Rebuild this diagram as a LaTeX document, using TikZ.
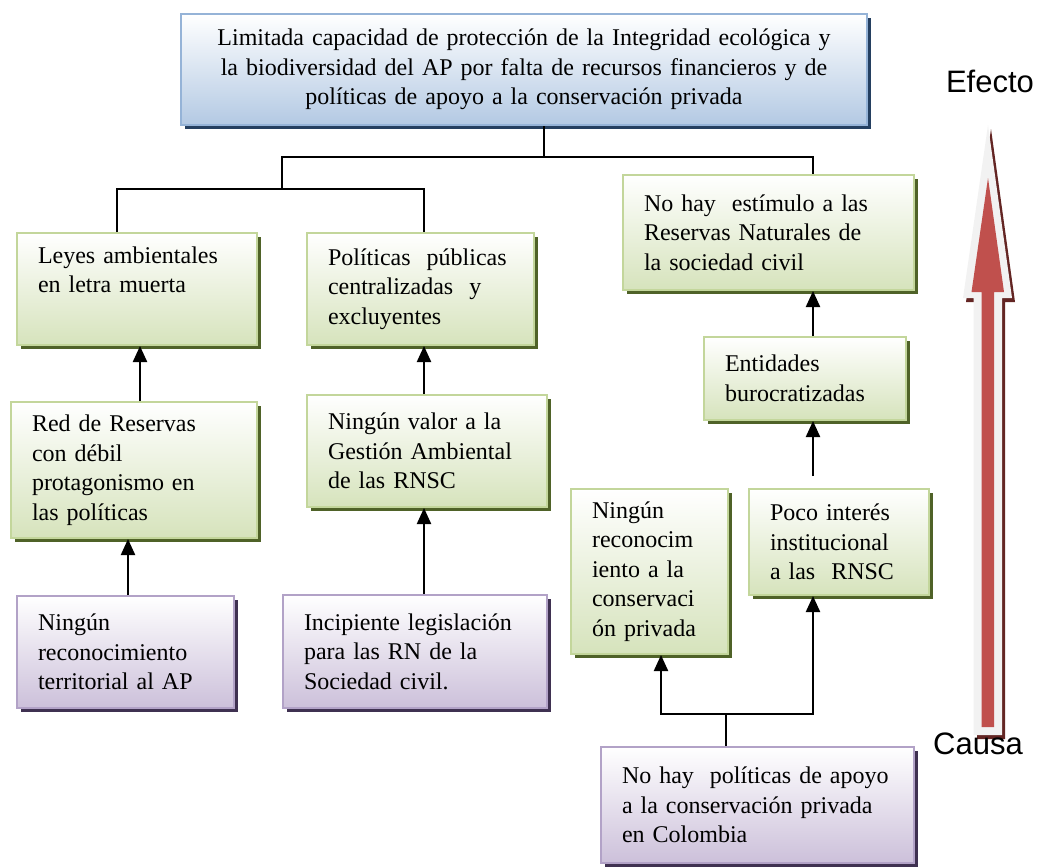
\documentclass[tikz,border=0pt]{standalone}
\usepackage{fontspec}
\setmainfont{Liberation Serif}
\newfontfamily\arialfont{Liberation Sans}
\usetikzlibrary{shadows,arrows.meta}

\definecolor{azulborde}{HTML}{95B3D7}
\definecolor{azulfondo}{HTML}{B3C9E3}
\definecolor{azulsombra}{HTML}{243F60}
\definecolor{verdeborde}{HTML}{C3D69B}
\definecolor{verdefondo}{HTML}{D6E3BC}
\definecolor{verdesombra}{HTML}{4F6228}
\definecolor{lilaborde}{HTML}{B2A2C7}
\definecolor{lilafondo}{HTML}{CCC0DA}
\definecolor{lilasombra}{HTML}{3F3151}
\definecolor{rojoflecha}{HTML}{C0504D}
\definecolor{rojosombra}{HTML}{632523}
\definecolor{grisclaro}{HTML}{F2F2F2}

\begin{document}
\begin{tikzpicture}[x=1pt,y=-1pt,
   caja/.style={draw,line width=2pt,anchor=north west,align=left,
      inner xsep=21pt,inner ysep=0pt,font=\fontsize{24}{29.5}\selectfont},
   azul/.style={caja,draw=azulborde,top color=white,bottom color=azulfondo,
      drop shadow={shadow xshift=4pt,shadow yshift=-4pt,fill=azulsombra,opacity=1}},
   verde/.style={caja,draw=verdeborde,top color=white,bottom color=verdefondo,
      drop shadow={shadow xshift=4pt,shadow yshift=-4pt,fill=verdesombra,opacity=1}},
   lila/.style={caja,draw=lilaborde,top color=white,bottom color=lilafondo,
      drop shadow={shadow xshift=4pt,shadow yshift=-4pt,fill=lilasombra,opacity=1}},
   linea/.style={line width=2.2pt},
   flecha/.style={line width=2.2pt,-{Triangle[length=16pt,width=14pt]}},
   rotulo/.style={font=\arialfont\fontsize{31}{31}\selectfont,inner sep=0pt}]
   \useasboundingbox (0,0) rectangle (1041,867);

   % efecto principal
   \node[azul,align=center,inner xsep=10pt,text width=666pt,minimum height=111pt] (problema) at (180,13)
      {Limitada capacidad de protección de la Integridad ecológica y\\
       la biodiversidad del AP por falta de recursos financieros y de\\
       políticas de apoyo a la conservación privada};

   % efectos
   \node[verde,text width=198pt,minimum height=112pt] (leyes) at (16,232)
      {Leyes ambientales\\ en letra muerta\\ \strut};
   \node[verde,text width=185pt,minimum height=112pt] (politicas) at (306,232)
      {Políticas~~públicas\\ centralizadas~~y\\ excluyentes};
   \node[verde,text width=249pt,minimum height=115pt] (estimulo) at (622,174)
      {No hay~ estímulo a las\\ Reservas Naturales de\\ la sociedad civil};
   \node[verde,text width=204pt,minimum height=136pt] (red) at (10,401)
      {Red de Reservas\\ con débil\\ protagonismo en\\ las políticas};
   \node[verde,text width=198pt,minimum height=112pt] (valor) at (306,394)
      {Ningún valor a la\\ Gestión Ambiental\\ de las RNSC};
   \node[verde,text width=160pt,minimum height=83pt] (entidades) at (703,336)
      {Entidades\\ burocratizadas};
   \node[verde,text width=115pt,minimum height=165pt] (reconocim) at (570,488)
      {Ningún\\ reconocim\\ iento a la\\ conservaci\\ ón privada};
   \node[verde,text width=138pt,minimum height=106pt] (interes) at (748,488)
      {Poco interés\\ institucional\\ a las~ RNSC};

   % causas
   \node[lila,text width=175pt,minimum height=112pt] (territorial) at (16,595)
      {Ningún\\ reconocimiento\\ territorial al AP};
   \node[lila,text width=222pt,minimum height=113pt] (incipiente) at (282,594)
      {Incipiente legislación\\ para las RN de la\\ Sociedad civil.};
   \node[lila,text width=271pt,minimum height=116pt] (apoyo) at (600,746)
      {No hay~ políticas de apoyo\\ a la conservación privada\\ en Colombia};

   % arbol superior
   \coordinate (cruce) at (544,157);
   \coordinate (nudo) at (282,189);
   \draw[linea] (problema.south -| cruce) -- (cruce);
   \draw[linea] (nudo) |- (cruce) -| (estimulo.north -| 813,0);
   \draw[linea] (leyes.north -| 117,0) |- (nudo) -| (politicas.north -| 424,0);

   % flechas causa -> efecto
   \draw[flecha] (red.north -| 140,0) -- (leyes.south -| 140,0);
   \draw[flecha] (territorial.north -| 128,0) -- (red.south -| 128,0);
   \draw[flecha] (valor.north -| 424,0) -- (politicas.south -| 424,0);
   \draw[flecha] (incipiente.north -| 424,0) -- (valor.south -| 424,0);
   \draw[flecha] (entidades.north -| 813,0) -- (estimulo.south -| 813,0);
   \draw[flecha,shorten <=12pt] (interes.north -| 813,0) -- (entidades.south -| 813,0);
   \coordinate (bifurca) at (726,714);
   \draw[linea] (apoyo.north -| bifurca) -- (bifurca);
   \draw[flecha] (bifurca) -| (reconocim.south -| 661,0);
   \draw[flecha] (bifurca) -| (interes.south -| 813,0);

   % flecha grande
   \fill[rojosombra] (977,739) -- (977,302) -- (966,302) -- (991,129) -- (1015,302)
      -- (1005,302) -- (1005,739) -- cycle;
   \fill[grisclaro] (973.5,735) -- (973.5,298) -- (963,298) -- (988,125) -- (1012,298)
      -- (1002,298) -- (1002,735) -- cycle;
   \fill[rojoflecha] (981.5,727) -- (981.5,292) -- (971.5,292) -- (988,178) -- (1004,292)
      -- (994,292) -- (994,727) -- cycle;
   \node[rotulo] (efecto) at (990,81) {Efecto};
   \node[rotulo] (causa) at (978,744) {Causa};
\end{tikzpicture}
\end{document}
